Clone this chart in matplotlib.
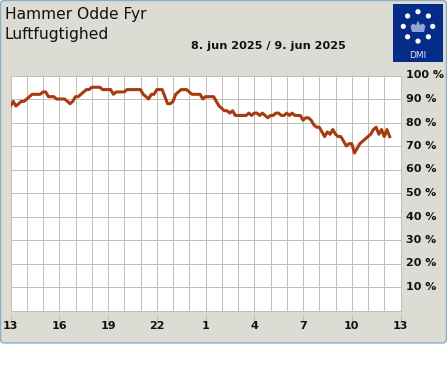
import numpy as np
from matplotlib import pyplot as plt
from matplotlib.patches import FancyBboxPatch, Rectangle, Circle, Polygon

# humidity, one value per 10 minutes starting at 13:00
humidity = [87, 89, 87, 88, 89, 89, 90, 91, 92, 92, 92, 92, 93, 93, 91, 91, 91, 90, 90, 90,
            90, 89, 88, 89, 91, 91, 92, 93, 94, 94, 95, 95, 95, 95, 94, 94, 94, 94, 92, 93,
            93, 93, 93, 94, 94, 94, 94, 94, 94, 92, 91, 90, 92, 92, 94, 94, 94, 91, 88, 88,
            89, 92, 93, 94, 94, 94, 93, 92, 92, 92, 92, 90, 91, 91, 91, 91, 89, 87, 86, 85,
            85, 84, 85, 83, 83, 83, 83, 83, 84, 83, 84, 84, 83, 84, 83, 82, 83, 83, 84, 84,
            83, 83, 84, 83, 84, 83, 83, 83, 81, 82, 82, 81, 79, 78, 78, 76, 74, 76, 75, 77,
            75, 74, 74, 72, 70, 71, 71, 67, 69, 71, 72, 73, 74, 75, 77, 78, 75, 77, 74, 77, 74]
hour_ticks = [0, 3, 6, 9, 12, 15, 18, 21, 24]
hour_labels = ["13", "16", "19", "22", "1", "4", "7", "10", "13"]
pct_ticks = [10, 20, 30, 40, 50, 60, 70, 80, 90, 100]

W, H = 447, 370
BG = "#dcdcd4"
GRID = "#c0c0b4"
TXT = "#111111"
PX = 0.72  # one pixel in points

fig = plt.figure(figsize=(W / 100, H / 100), dpi=100, facecolor="white")

# overlay in pixel coords for the panel and the logo
bg = fig.add_axes([0, 0, 1, 1], zorder=0)
bg.set_xlim(0, W)
bg.set_ylim(H, 0)
bg.axis("off")
bg.add_patch(FancyBboxPatch((0.5, 0.5), W - 1, 342.5, boxstyle="round,pad=0,rounding_size=4",
                            fc=BG, ec="#8cadc2", lw=PX * 1.4))

# logo
bg.add_patch(Rectangle((393, 4), 50, 58, fc="#052c88", ec="none"))
for a in np.arange(0, 360, 45):
    cx = 418 + 14.7 * np.cos(np.radians(a))
    cy = 26.4 + 14.7 * np.sin(np.radians(a))
    bg.add_patch(Circle((cx, cy), 2.6, fc="white", ec="none"))
crown = [(412, 32), (424, 32), (425.5, 26), (423, 23.5), (420, 25), (418, 20.5),
         (416, 25), (413, 23.5), (410.5, 26)]
bg.add_patch(Polygon(crown, closed=True, fc="#8fa3d4", ec="none"))
bg.text(418, 55, "DMI", color="#dfe5f5", ha="center", va="center", fontsize=6.5)

fig.text(5 / W, 1 - 15 / H, "Hammer Odde Fyr", fontsize=11.2, color=TXT, va="center")
fig.text(5 / W, 1 - 35 / H, "Luftfugtighed", fontsize=11.2, color=TXT, va="center")
fig.text(268.5 / W, 1 - 46 / H, "8. jun 2025 / 9. jun 2025", fontsize=8.1, fontweight="bold",
         color=TXT, ha="center", va="center")

# main chart
left, right, top, bottom = 10.5, 400.5, 75.5, 310.5
ax = fig.add_axes([left / W, 1 - bottom / H, (right - left) / W, (bottom - top) / H], zorder=1)
ax.set_facecolor("white")
hours = np.arange(len(humidity)) / 6
ax.plot(hours, humidity, color="#a83a10", lw=2.2, solid_joinstyle="round", zorder=3)
ax.set_xlim(0, 24)
ax.set_ylim(0, 100)
ax.set_xticks(np.arange(0, 25))
ax.set_yticks(pct_ticks)
ax.grid(True, color=GRID, lw=PX)
ax.set_axisbelow(True)
ax.tick_params(length=0, labelbottom=False, labelleft=False)
for s in ax.spines.values():
    s.set_color(GRID)
    s.set_linewidth(PX)

# the hour ticks sit a little below the frame
for h, lab in zip(hour_ticks, hour_labels):
    ax.plot([h, h], [-2.1, -4.3], color=GRID, lw=PX, clip_on=False)
    ax.text(h, -6.7, lab, fontsize=8, fontweight="bold", color=TXT, ha="center", va="center")
for p in pct_ticks:
    ax.annotate(f"{p} %", (1, p), xycoords=("axes fraction", "data"), xytext=(4.2, 0),
                textcoords="offset points", fontsize=8, fontweight="bold", color=TXT,
                ha="left", va="center", annotation_clip=False)

fig.savefig("out.png", dpi=100, facecolor="white")
